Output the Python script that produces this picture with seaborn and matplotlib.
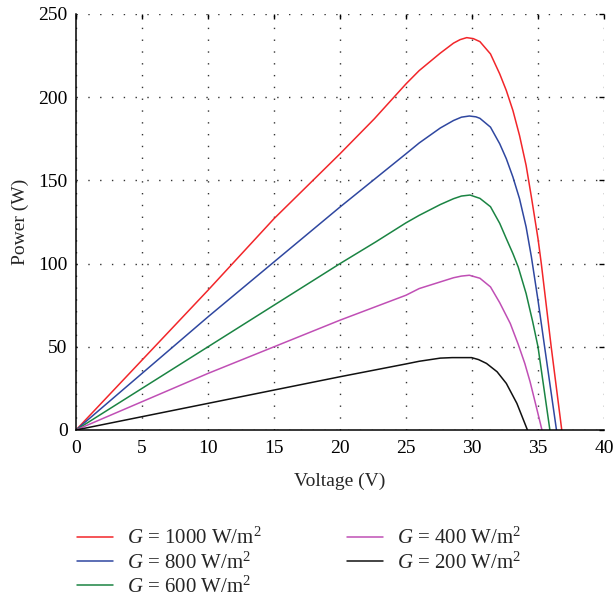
import numpy as np
import pandas as pd
import matplotlib
matplotlib.use("Agg")
import matplotlib.pyplot as plt
import seaborn as sns

# ---- data ----
v_1000 = [0, 5, 10, 15, 20, 22.6, 25, 26, 27.6, 28.6, 29.1, 29.6, 30.1, 30.6, 31.4, 32.1, 32.6, 33.1, 33.6, 34.1, 34.5, 35.0, 35.25, 36.0, 36.8]
p_1000 = [0, 42, 84, 127, 166, 187, 208, 216, 226.5, 232.5, 234.6, 235.8, 235.2, 233.4, 226, 214, 204, 192, 177, 159, 140, 115, 100, 50, 0]

v_800 = [0, 5, 10, 15, 20, 25, 26, 27.6, 28.6, 29.2, 29.8, 30.3, 30.6, 31.4, 32.1, 32.6, 33.1, 33.6, 34.1, 34.5, 35.0, 35.5, 36.4]
p_800 = [0, 34, 68, 101, 134, 166, 172.5, 181.5, 186, 188, 188.7, 188.2, 187.3, 182, 172, 163, 152, 139, 122, 104, 78, 50, 0]

v_600 = [0, 5, 10, 15, 20, 22.7, 25, 26, 27.6, 28.6, 29.2, 29.85, 30.6, 31.4, 32.1, 32.6, 33.1, 33.5, 34.1, 34.6, 35.0, 35.9]
p_600 = [0, 25, 50, 75, 100, 113, 124.5, 129, 135.5, 139, 140.6, 141.2, 139.2, 134.2, 124.2, 115, 106, 98, 82, 65, 50, 0]

v_400 = [0, 5, 10, 15, 20, 25, 26, 27.6, 28.6, 29.2, 29.8, 30.6, 31.4, 32.1, 32.9, 33.5, 34.0, 34.4, 34.9, 35.3]
p_400 = [0, 17, 34, 50, 66, 81, 85, 89, 91.5, 92.5, 93, 91.2, 86, 76.5, 64, 51.5, 40, 29, 13, 0]

v_200 = [0, 5, 10, 15, 20, 25, 26, 27.6, 28.5, 29.97, 30.5, 31.1, 31.9, 32.6, 33.4, 33.9, 34.2]
p_200 = [0, 8, 16, 24, 32, 39.7, 41.3, 43.2, 43.5, 43.5, 42.3, 40, 35, 28, 16, 6, 0]

labels = ["$G$ = 1000 W/m$^2$", "$G$ = 800 W/m$^2$", "$G$ = 600 W/m$^2$",
          "$G$ = 400 W/m$^2$", "$G$ = 200 W/m$^2$"]
colors = ["#f2262a", "#2f47a0", "#1b8443", "#c04fb5", "#111111"]

series = [(v_1000, p_1000), (v_800, p_800), (v_600, p_600), (v_400, p_400), (v_200, p_200)]
frames = []
for lab, (v, p) in zip(labels, series):
    frames.append(pd.DataFrame({"Voltage": v, "Power": p, "G": lab}))
df = pd.concat(frames, ignore_index=True)

sns.set_style("white")
plt.rcParams["font.family"] = ["Liberation Serif", "DejaVu Serif"]
plt.rcParams["mathtext.fontset"] = "custom"
plt.rcParams["mathtext.rm"] = "Liberation Serif"
plt.rcParams["mathtext.it"] = "Liberation Serif:italic"

fig = plt.figure(figsize=(6.15, 5.96), dpi=100)
ax = fig.add_axes([76 / 615, 1 - 430 / 596, (604 - 76) / 615, (430 - 14) / 596])

sns.lineplot(data=df, x="Voltage", y="Power", hue="G", hue_order=labels,
             palette=colors, estimator=None, linewidth=1.1, ax=ax)

ax.set_xlim(0, 40)
ax.set_ylim(0, 250)
ax.set_xticks(np.arange(0, 41, 5))
ax.set_yticks(np.arange(0, 251, 50))
ax.grid(True, linestyle=(0, (1, 7.5)), linewidth=1.0, color="#333333")
for s in ["top", "right"]:
    ax.spines[s].set_visible(False)
for s in ["left", "bottom"]:
    ax.spines[s].set_color("black")
    ax.spines[s].set_linewidth(1.1)
ax.tick_params(axis="both", which="both", direction="in", length=3.5, width=1.0,
               labelsize=14, colors="black", top=True, right=True, pad=6)
ax.tick_params(axis="x", pad=7.5)
ax.set_xlabel("Voltage (V)", fontsize=14, labelpad=11)
ax.set_ylabel("Power (W)", fontsize=14, labelpad=7)

handles, labs = ax.get_legend_handles_labels()
if ax.get_legend() is not None:
    ax.get_legend().remove()
fig.legend(handles, labs, loc="upper left", bbox_to_anchor=(77 / 615, 1 - 528 / 596),
           ncol=2, frameon=False, fontsize=15, borderpad=0, borderaxespad=0,
           handlelength=1.73, handletextpad=0.67, columnspacing=4.1, labelspacing=0.14)

fig.savefig("out.png", dpi=100)
